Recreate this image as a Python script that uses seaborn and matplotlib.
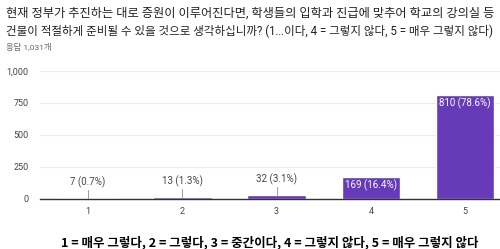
import matplotlib
matplotlib.use("Agg")
import matplotlib.pyplot as plt
import seaborn as sns
import pandas as pd

categories = ["1", "2", "3", "4", "5"]
counts = [7, 13, 32, 169, 810]
labels = ["7 (0.7%)", "13 (1.3%)", "32 (3.1%)", "169 (16.4%)", "810 (78.6%)"]
yticks = [0, 250, 500, 750, 1000]
ytick_labels = ["0", "250", "500", "750", "1,000"]

title1 = "현재 정부가 추진하는 대로 증원이 이루어진다면, 학생들의 입학과 진급에 맞추어 학교의 강의실 등"
title2 = "건물이 적절하게 준비될 수 있을 것으로 생각하십니까? (1...이다, 4 = 그렇지 않다, 5 = 매우 그렇지 않다)"
subtitle = "응답 1,031개"
xlabel = "1 = 매우 그렇다, 2 = 그렇다, 3 = 중간이다, 4 = 그렇지 않다, 5 = 매우 그렇지 않다"

sns.set_theme(style="white")
fam = ['Roboto', 'Noto Sans CJK KR', 'DejaVu Sans']
plt.rcParams['font.family'] = fam

df = pd.DataFrame({"cat": categories, "n": counts})

fig = plt.figure(figsize=(5, 2.49), dpi=100)
ax = fig.add_axes([40/500, 1-199/249, 460/500, 128/249])
sns.barplot(data=df, x="cat", y="n", color="#673AB7", saturation=1, width=0.62, ax=ax)

ax.set_ylim(0, 1000)
ax.set_xlim(-0.51, 4.37)
ax.set_yticks(yticks)
ax.set_yticklabels(ytick_labels)
ax.yaxis.grid(True, color="#ebebeb", linewidth=0.8)
ax.set_axisbelow(True)
for s in ["top", "right", "left"]:
    ax.spines[s].set_visible(False)
ax.spines["bottom"].set_color("#333333")
ax.spines["bottom"].set_linewidth(1)
ax.tick_params(axis="both", length=0, labelsize=6.5, colors="#444444", pad=6)
ax.tick_params(axis="y", pad=8)
ax.set_ylabel("")
ax.set_xlabel(xlabel, fontsize=9, fontweight="bold", color="black", labelpad=14,
              family=['Noto Sans CJK KR', 'DejaVu Sans'])

for i, (v, lab) in enumerate(zip(counts, labels)):
    if v > 100:
        ax.text(i, v - 18, lab, ha="center", va="top", color="white", fontsize=7)
    else:
        ax.plot([i, i], [v + 2, v + 65], color="#999999", linewidth=0.7)
        ax.text(i, v + 80, lab, ha="center", va="bottom", color="#444444", fontsize=7)

fig.text(6/500, 1-13/249, title1, ha="left", va="center", fontsize=8.8, color="#222222")
fig.text(6/500, 1-31/249, title2, ha="left", va="center", fontsize=8.3, color="#222222")
fig.text(6/500, 1-47/249, subtitle, ha="left", va="center", fontsize=6, color="#666666")

fig.savefig("out.png", dpi=100)
